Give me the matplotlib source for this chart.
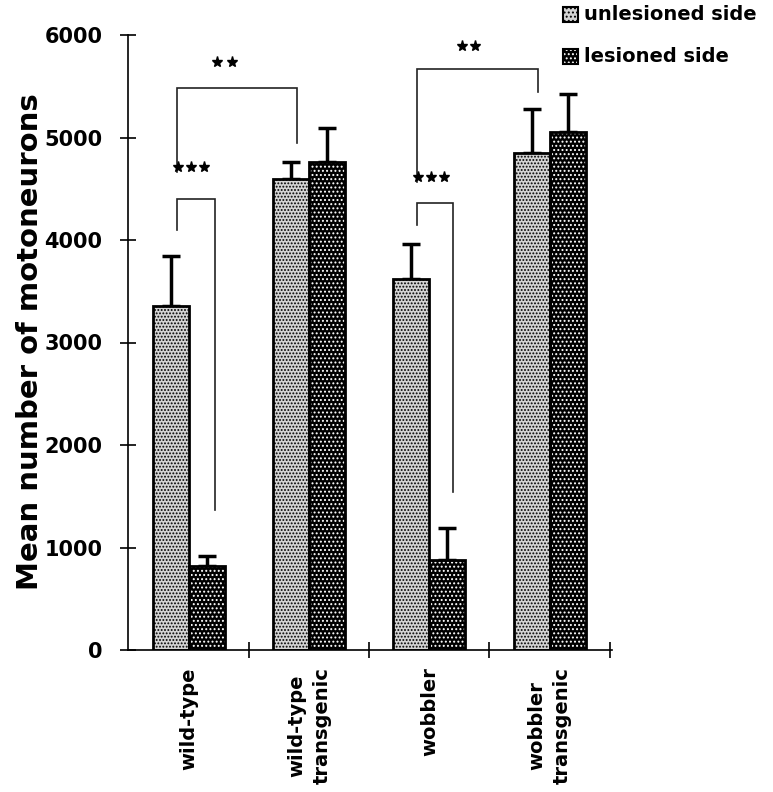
import matplotlib
matplotlib.use("Agg")
import matplotlib.pyplot as plt
from matplotlib.patches import Rectangle
import numpy as np

plt.rcParams['font.family'] = ['DejaVu Sans']
plt.rcParams['font.weight'] = 'bold'
plt.rcParams['hatch.linewidth'] = 0.9

groups = ['wild-type', 'wild-type\ntransgenic', 'wobbler', 'wobbler\ntransgenic']
unlesioned = [3360, 4600, 3620, 4850]
unlesioned_err = [480, 160, 340, 430]
lesioned = [820, 4760, 880, 5050]
lesioned_err = [100, 330, 310, 370]
series_names = ['unlesioned side', 'lesioned side']

# significance brackets: (x left, x right, top, left leg end, right leg end)
brackets = [(-0.1, 0.9, 5483, 4663, 4946),
            (-0.1, 0.217, 4400, 4098, 1366),
            (1.9, 2.908, 5668, 4566, 5444),
            (1.9, 2.2, 4361, 4146, 1541)]
# star positions: (x list, y)
stars = [([0.233, 0.358], 5737),
         ([-0.092, 0.017, 0.125], 4712),
         ([2.267, 2.383], 5893),
         ([1.908, 2.017, 2.125], 4615)]

fig = plt.figure(figsize=(7.73, 7.92), dpi=100)
ax = fig.add_axes([128 / 773, 1 - 650 / 792, 484 / 773, 615 / 792])

x = np.arange(len(groups))
w = 0.3

# unlesioned: light grey with black dots
ax.bar(x - w / 2, unlesioned, w, facecolor='#d4d4d4', edgecolor='black',
       hatch='.....', linewidth=0, zorder=2)
ax.bar(x - w / 2, unlesioned, w, facecolor='none', edgecolor='black',
       linewidth=2, zorder=3)
# lesioned: dark with white dots
ax.bar(x + w / 2, lesioned, w, facecolor='black', edgecolor='white',
       hatch='....', linewidth=0, zorder=2)
ax.bar(x + w / 2, lesioned, w, facecolor='none', edgecolor='black',
       linewidth=2, zorder=3)

ax.errorbar(x - w / 2, unlesioned, yerr=[np.zeros(4), unlesioned_err], fmt='none',
            ecolor='black', elinewidth=2.5, capsize=6.5, capthick=2.5, zorder=1)
ax.errorbar(x + w / 2, lesioned, yerr=[np.zeros(4), lesioned_err], fmt='none',
            ecolor='black', elinewidth=2.5, capsize=6.5, capthick=2.5, zorder=1)

for xl, xr, top, yl, yr in brackets:
    ax.plot([xl, xl, xr, xr], [yl, top, top, yr], color='#222222', lw=1.2,
            solid_joinstyle='miter', zorder=1)
for xs, y in stars:
    ax.plot(xs, [y] * len(xs), ls='none', marker='*', ms=8, color='black',
            zorder=4)

ax.set_xlim(-0.51, 3.52)
ax.set_ylim(0, 6000)
ax.spines['top'].set_visible(False)
ax.spines['right'].set_visible(False)
ax.spines['left'].set_linewidth(1.2)
ax.spines['bottom'].set_linewidth(1.2)

ax.set_yticks(range(0, 6001, 1000))
ax.set_yticklabels([str(v) for v in range(0, 6001, 1000)], fontsize=15,
                   fontweight='bold')
ax.tick_params(axis='y', direction='inout', length=11, width=1.2, pad=13)
ax.set_xticks([0.5, 1.5, 2.5, 3.5])
ax.set_xticklabels([])
ax.tick_params(axis='x', direction='inout', length=11, width=1.2)

for xi, lab in zip(x, groups):
    ax.text(xi, -170, lab, rotation=90, ha='center', va='top',
            multialignment='center', fontsize=14, fontweight='bold',
            linespacing=1.45)

fig.text(30 / 773, 1 - 342 / 792, 'Mean number of motoneurons', rotation=90,
         ha='center', va='center', fontsize=21, fontweight='bold')

# legend
leg_y = [14, 56]
for i, name in enumerate(series_names):
    yc = 1 - leg_y[i] / 792
    sq_w, sq_h = 15 / 773, 15 / 792
    if i == 0:
        fig.patches.append(Rectangle((563 / 773, yc - sq_h / 2), sq_w, sq_h,
                                     facecolor='#d4d4d4', edgecolor='black',
                                     hatch='....', linewidth=1.5,
                                     transform=fig.transFigure))
    else:
        fig.patches.append(Rectangle((563 / 773, yc - sq_h / 2), sq_w, sq_h,
                                     facecolor='black', edgecolor='white',
                                     hatch='....', linewidth=0,
                                     transform=fig.transFigure))
        fig.patches.append(Rectangle((563 / 773, yc - sq_h / 2), sq_w, sq_h,
                                     facecolor='none', edgecolor='black',
                                     linewidth=1.5, transform=fig.transFigure))
    fig.text(584 / 773, yc, name, ha='left', va='center', fontsize=14,
             fontweight='bold')

fig.savefig('out.png', dpi=100)
